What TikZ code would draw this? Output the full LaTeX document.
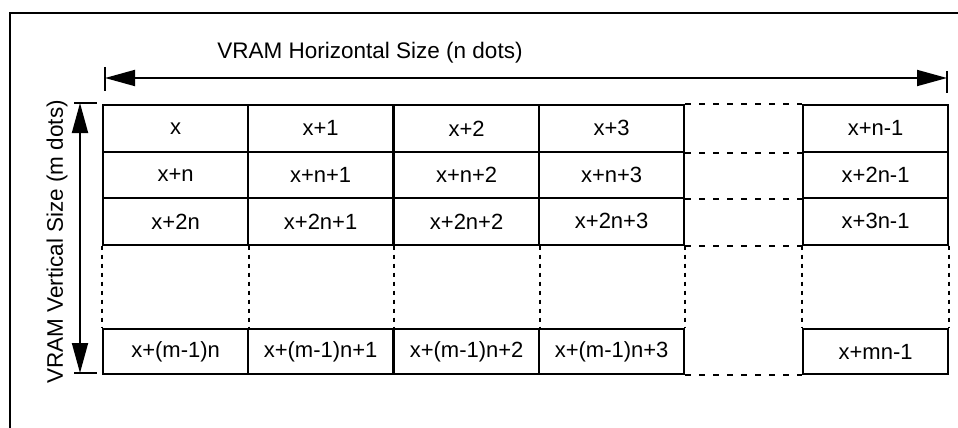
\documentclass[tikz,border=0pt]{standalone}
\usepackage{fontspec}
\setmainfont{Liberation Sans}
\usetikzlibrary{arrows.meta}
\begin{document}
\begin{tikzpicture}[x=1pt,y=-1pt,
  cell/.style={draw, line width=2.2pt, rectangle, inner sep=0pt, anchor=north west,
    minimum width=145pt, minimum height=46.5pt, font=\fontsize{22}{26}\selectfont},
  lastrow/.style={minimum height=45pt},
  hdots/.style={line width=2pt, dash pattern=on 6pt off 8pt},
  vdots/.style={line width=2.2pt, dash pattern=on 4pt off 5pt},
  dim/.style={line width=1.8pt},
  lbl/.style={font=\fontsize{22.5}{27}\selectfont, inner sep=0pt}]
\useasboundingbox (0,0) rectangle (958,428);
% open frame
\draw[line width=2.2pt] (10,428) -- (10,13) -- (958,13);
% row 1
\node[cell] (a1) at (102,104) {x};
\node[cell] (a2) at (247,104) {x+1};
\node[cell] (a3) at (393,104) {x+2};
\node[cell] (a4) at (538,104) {x+3};
\node[cell] (a5) at (802,104) {x+n-1};
% row 2
\node[cell] (b1) at (102,150.5) {x+n};
\node[cell] (b2) at (247,150.5) {x+n+1};
\node[cell] (b3) at (393,150.5) {x+n+2};
\node[cell] (b4) at (538,150.5) {x+n+3};
\node[cell] (b5) at (802,150.5) {x+2n-1};
% row 3
\node[cell] (c1) at (102,197) {x+2n};
\node[cell] (c2) at (247,197) {x+2n+1};
\node[cell] (c3) at (393,197) {x+2n+2};
\node[cell] (c4) at (538,197) {x+2n+3};
\node[cell] (c5) at (802,197) {x+3n-1};
% last row
\node[cell, lastrow] (d1) at (102,328) {x+(m-1)n};
\node[cell, lastrow] (d2) at (247,328) {x+(m-1)n+1};
\node[cell, lastrow] (d3) at (393,328) {x+(m-1)n+2};
\node[cell, lastrow] (d4) at (538,328) {x+(m-1)n+3};
\node[cell, lastrow] (d5) at (802,328) {x+mn-1};
% horizontal dotted continuations
\draw[hdots] (a4.north east) -- (a5.north west);
\draw[hdots] (a4.south east) -- (a5.south west);
\draw[hdots] (b4.south east) -- (b5.south west);
\draw[hdots] (c4.south east) -- (c5.south west);
\draw[hdots] (d4.south east) -- (d5.south west);
% vertical dotted continuations
\draw[vdots] (c1.south west) -- (d1.north west);
\draw[vdots] (c1.south east) -- (d1.north east);
\draw[vdots] (c2.south east) -- (d2.north east);
\draw[vdots] (c3.south east) -- (d3.north east);
\draw[vdots] (c4.south east) -- (d4.north east);
\draw[vdots] (c5.south west) -- (d5.north west);
\draw[vdots] (c5.south east) -- (d5.north east);
% horizontal dimension
\coordinate (hl) at (105,78);
\coordinate (hr) at (947,78);
\draw[dim, {Triangle[length=30pt,width=16pt]}-{Triangle[length=30pt,width=16pt]}] (hl) -- (hr);
\draw[dim] ([yshift=11pt]hl) -- ([yshift=-13pt]hl);
\draw[dim] ([yshift=7pt]hr) -- ([yshift=-15pt]hr);
\node[lbl] (htitle) at (370,53) {VRAM Horizontal Size (n dots)};
% vertical dimension
\coordinate (vt) at (80,103);
\coordinate (vb) at (80,373);
\draw[dim, {Triangle[length=30pt,width=16pt]}-{Triangle[length=30pt,width=16pt]}] (vt) -- (vb);
\draw[dim] ([xshift=-6pt]vt) -- ([xshift=17pt]vt);
\draw[dim] ([xshift=-6pt]vb) -- ([xshift=17pt]vb);
\node[lbl, rotate=90] (vtitle) at (57,242) {VRAM Vertical Size (m dots)};
\end{tikzpicture}
\end{document}
